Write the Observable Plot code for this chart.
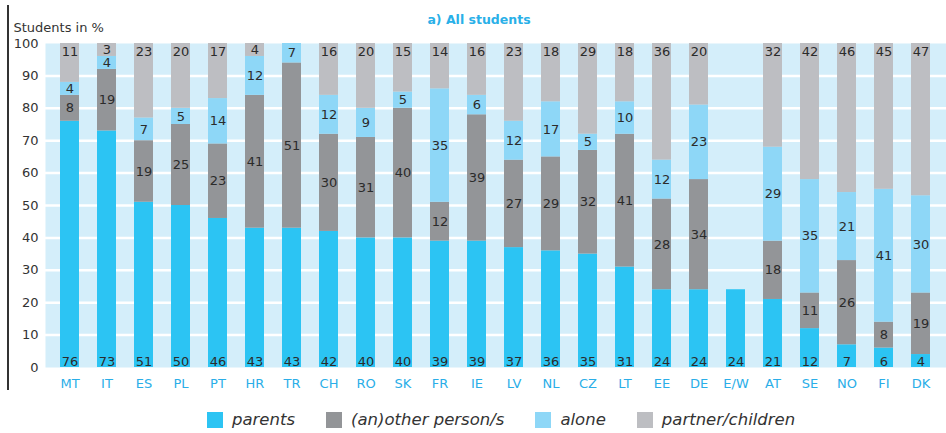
<!DOCTYPE html>
<html>
<head>
<meta charset="utf-8">
<script src="https://cdn.jsdelivr.net/npm/d3@7"></script>
<script src="https://cdn.jsdelivr.net/npm/@observablehq/plot@0.6"></script>
<style>
  html, body { margin: 0; padding: 0; background: #fff; }
  #wrap { position: relative; width: 946px; height: 433px; font-family: "DejaVu Sans", sans-serif; }
  #vline { position: absolute; left: 7px; top: 5px; width: 1.5px; height: 385px; background: #333; }
  #legend { position: absolute; left: 0; top: 400px; width: 946px; height: 33px; display: flex; align-items: center; padding-left: 207px; box-sizing: border-box; gap: 31px; padding-top: 7px; }
  .item { display: flex; align-items: center; }
  .sw { width: 16px; height: 16px; margin-right: 9px; }
  .lab { font-style: italic; font-size: 16.5px; color: #333; line-height: 16px; }
</style>
</head>
<body>
<div id="wrap"><div id="chart"></div><div id="vline"></div><div id="legend"></div></div>
<script>
const countries = ["MT","IT","ES","PL","PT","HR","TR","CH","RO","SK","FR","IE","LV","NL","CZ","LT","EE","DE","E/W","AT","SE","NO","FI","DK"];
const parents = [76,73,51,50,46,43,43,42,40,40,39,39,37,36,35,31,24,24,24,21,12,7,6,4];
const other   = [8,19,19,25,23,41,51,30,31,40,12,39,27,29,32,41,28,34,0,18,11,26,8,19];
const alone   = [4,4,7,5,14,12,7,12,9,5,35,6,12,17,5,10,12,23,0,29,35,21,41,30];
const partner = [11,3,23,20,17,4,0,16,20,15,14,16,23,18,29,18,36,20,0,32,42,46,45,47];
const categories = ["parents","(an)other person/s","alone","partner/children"];
const colors = ["#2cc4f3","#939598","#8ed7f7","#bdbec2"];
const yTicks = [0,10,20,30,40,50,60,70,80,90,100];
const title = "a) All students";
const yLabel = "Students in %";

const series = [parents, other, alone, partner];
const rows = [];
const labels = [];
countries.forEach((c, i) => {
  const vals = series.map(s => s[i]);
  const total = d3.sum(vals);
  let lastK = -1;
  vals.forEach((v, k) => { if (v > 0) lastK = k; });
  let base = 0;
  vals.forEach((v, k) => {
    if (v > 0) {
      let top = base + v;
      // shares are rounded: the top segment of a complete bar closes at 100 %
      if (k === lastK && total >= 98) top = 100;
      top = Math.min(top, 100);
      rows.push({country: c, cat: categories[k], y1: base, y2: top});
      let ly;
      if (k === 0) ly = 0;
      else if (k === 3) ly = Math.max((base + top) / 2, 97.3);
      else ly = (base + top) / 2;
      labels.push({country: c, y: ly, text: String(v), bottom: k === 0});
    }
    base += v;
  });
});

const chart = Plot.plot({
  width: 946,
  height: 400,
  marginLeft: 45,
  marginRight: 0,
  marginTop: 43,
  marginBottom: 33,
  style: {fontFamily: "DejaVu Sans, sans-serif", fontSize: "13px", color: "#333", background: "white"},
  x: {domain: countries, paddingInner: 0.48, paddingOuter: 0.26, label: null},
  y: {domain: [0, 100], label: null},
  color: {domain: categories, range: colors},
  marks: [
    Plot.frame({fill: "#d4eefa", stroke: null}),
    Plot.ruleY(yTicks.filter(d => d > 0 && d < 100), {stroke: "white", strokeWidth: 2.5}),
    Plot.barY(rows, {x: "country", y1: "y1", y2: "y2", fill: "cat"}),
    Plot.text(labels.filter(d => !d.bottom), {x: "country", y: "y", text: "text", fill: "#2b2b2b", fontSize: 13}),
    Plot.text(labels.filter(d => d.bottom), {x: "country", y: "y", text: "text", fill: "#2b2b2b", fontSize: 13, dy: -6}),
    Plot.axisY({ticks: yTicks, tickSize: 0, tickPadding: 7, fontSize: 13, fill: "#333", label: null}),
    Plot.axisX({tickSize: 0, tickPadding: 11, fontSize: 13, fill: "#2aaee8", label: null}),
    Plot.text([title], {frameAnchor: "top", dx: -17, dy: -28, fill: "#29b0e8", fontWeight: "bold", fontSize: 12.5}),
    Plot.text([yLabel], {frameAnchor: "top-left", textAnchor: "start", dx: -32, dy: -21, fill: "#333", fontSize: 13})
  ]
});
document.getElementById("chart").appendChild(chart);

const legend = document.getElementById("legend");
categories.forEach((c, k) => {
  const item = document.createElement("div");
  item.className = "item";
  const sw = document.createElement("span");
  sw.className = "sw";
  sw.style.background = colors[k];
  const lab = document.createElement("span");
  lab.className = "lab";
  lab.textContent = c;
  item.appendChild(sw);
  item.appendChild(lab);
  legend.appendChild(item);
});
</script>
</body>
</html>
